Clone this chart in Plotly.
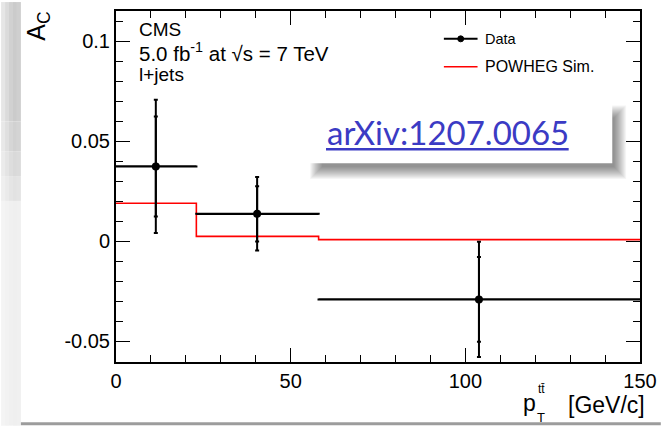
import plotly.graph_objects as go

# ---- data ----
bin_edges = [0, 23, 58, 150]
data_x = [11.4, 40.4, 103.9]
data_y = [0.0373, 0.0136, -0.0292]
stat_err = [0.0250, 0.0138, 0.0212]
tot_err = [0.0333, 0.0184, 0.0288]
powheg_y = [0.0189, 0.0023, 0.0007]
x_ticks = [0, 50, 100, 150]
x_ticktext = ["0", "50", "100", "150"]
y_ticks = [-0.05, 0, 0.05, 0.1]
y_ticktext = ["-0.05", "0", "0.05", "0.1"]

W, H = 666, 426
L, R, T, B = 116, 21, 9, 64
PW, PH = W - L - R, H - T - B


def px(x):
    return (x - L) / PW


def py(y):
    return (H - B - y) / PH


err_lo = [x - lo for x, lo in zip(data_x, bin_edges[:-1])]
err_hi = [hi - x for x, hi in zip(data_x, bin_edges[1:])]

fig = go.Figure()

# POWHEG step histogram
fig.add_trace(go.Scatter(
    x=bin_edges, y=powheg_y + [powheg_y[-1]], mode="lines",
    line=dict(color="#ff0000", width=1.6, shape="hv"), showlegend=False,
    hoverinfo="skip"))

# stat error caps
fig.add_trace(go.Scatter(
    x=data_x, y=data_y, mode="markers", marker=dict(size=1, color="black"),
    error_y=dict(type="data", array=stat_err, color="black", thickness=2, width=2),
    showlegend=False, hoverinfo="skip"))

# data with total errors
fig.add_trace(go.Scatter(
    x=data_x, y=data_y, mode="markers",
    marker=dict(size=8, color="black", symbol="circle"),
    error_y=dict(type="data", array=tot_err, color="black", thickness=2, width=2),
    error_x=dict(type="data", array=err_hi, arrayminus=err_lo, symmetric=False,
                 color="black", thickness=2.2, width=1),
    showlegend=False))

font_family = "Liberation Sans, Arial, sans-serif"

fig.update_xaxes(
    range=[0, 150], tickvals=x_ticks, ticktext=x_ticktext,
    ticks="inside", ticklen=14, tickwidth=1.2, tickcolor="black",
    minor=dict(dtick=10, ticks="inside", ticklen=7, tickcolor="black", tickwidth=1.2),
    showline=True, linecolor="black", linewidth=2, mirror="allticks",
    showgrid=False, zeroline=False,
    tickfont=dict(family=font_family, size=20, color="black"))
fig.update_yaxes(
    range=[-0.0605, 0.115], tickvals=y_ticks, ticktext=y_ticktext,
    ticks="inside", ticklen=14, tickwidth=1.2, tickcolor="black",
    minor=dict(dtick=0.01, tick0=0, ticks="inside", ticklen=7, tickcolor="black", tickwidth=1.2),
    showline=True, linecolor="black", linewidth=2, mirror="allticks",
    showgrid=False, zeroline=False,
    tickfont=dict(family=font_family, size=20, color="black"))

shapes = []
# left gray strip (slide background)
strip_cols = [
    (0, 120, ["#e6e6e6", "#dbdbdb", "#d1d1d1", "#cbcbcb", "#cfcfcf"]),
    (120, 150, ["#e8e8e8", "#dfdfdf", "#d6d6d6", "#d1d1d1", "#d4d4d4"]),
    (150, 175, ["#ebebeb", "#e4e4e4", "#dddddd", "#d9d9d9", "#dbdbdb"]),
    (175, 200, ["#efefef", "#eaeaea", "#e5e5e5", "#e2e2e2", "#e4e4e4"]),
    (200, 426, ["#f4f4f4", "#f2f2f2", "#f0f0f0", "#efefef", "#f0f0f0"]),
]
for y0, y1, cols in strip_cols:
    for i, c in enumerate(cols):
        shapes.append(dict(type="rect", xref="paper", yref="paper",
                           x0=px(i * 4), x1=px(i * 4 + 4), y0=py(y1), y1=py(y0),
                           fillcolor=c, line=dict(width=0), layer="below"))
# bottom gray line
shapes.append(dict(type="line", xref="paper", yref="paper",
                   x0=px(20), x1=px(666), y0=py(424), y1=py(424),
                   line=dict(color="#9c9c9c", width=3), layer="below"))

# legend symbols
shapes.append(dict(type="line", xref="paper", yref="paper",
                   x0=px(447), x1=px(481), y0=py(37), y1=py(37),
                   line=dict(color="black", width=2)))
shapes.append(dict(type="circle", xref="paper", yref="paper",
                   x0=px(461), x1=px(467), y0=py(40), y1=py(34),
                   fillcolor="black", line=dict(color="black", width=1)))
shapes.append(dict(type="line", xref="paper", yref="paper",
                   x0=px(447), x1=px(481), y0=py(65), y1=py(65),
                   line=dict(color="#ff0000", width=1.6)))

# arXiv box soft shadow
for s in range(-6, 7):
    shapes.append(dict(type="rect", xref="paper", yref="paper",
                       x0=px(318 - s), x1=px(625 + s), y0=py(172 + s), y1=py(110 - s),
                       fillcolor="rgba(0,0,0,0.04)", line=dict(width=0), layer="above"))
shapes.append(dict(type="rect", xref="paper", yref="paper",
                   x0=px(308), x1=px(617), y0=py(162), y1=py(98),
                   fillcolor="white", line=dict(width=0), layer="above"))
# underline
shapes.append(dict(type="line", xref="paper", yref="paper",
                   x0=px(328), x1=px(573), y0=py(148), y1=py(148),
                   line=dict(color="#3b3bc4", width=2.5), layer="above"))

annotations = [
    dict(text="CMS", x=px(137), y=py(28), xanchor="left", yanchor="middle",
         font=dict(family=font_family, size=19, color="black")),
    dict(text="5.0 fb<sup>-1</sup> at \u221as = 7 TeV", x=px(137), y=py(50),
         xanchor="left", yanchor="middle",
         font=dict(family=font_family, size=20.5, color="black")),
    dict(text="l+jets", x=px(137), y=py(73), xanchor="left", yanchor="middle",
         font=dict(family=font_family, size=19, color="black")),
    dict(text="Data", x=px(487), y=py(37), xanchor="left", yanchor="middle",
         font=dict(family=font_family, size=14.5, color="black")),
    dict(text="POWHEG Sim.", x=px(487), y=py(65), xanchor="left", yanchor="middle",
         font=dict(family=font_family, size=16, color="black")),
    dict(text="arXiv:1207.0065", x=px(451), y=py(131), xanchor="center", yanchor="middle",
         font=dict(family="Lato, sans-serif", size=33, color="#3b3bc4")),
    # x axis title
    dict(text="[GeV/c]", x=px(652), y=py(405), xanchor="right", yanchor="middle",
         font=dict(family=font_family, size=23, color="black")),
    dict(text="p", x=px(542), y=py(403), xanchor="right", yanchor="middle",
         font=dict(family=font_family, size=23, color="black")),
    dict(text="tt\u0304", x=px(540), y=py(389), xanchor="left", yanchor="middle",
         font=dict(family=font_family, size=12, color="black")),
    dict(text="T", x=px(539), y=py(418), xanchor="left", yanchor="middle",
         font=dict(family=font_family, size=13, color="black")),
    # y axis title
    dict(text="A<sub>C</sub>", x=px(37), y=py(24), xanchor="center", yanchor="middle",
         textangle=-90, font=dict(family=font_family, size=25, color="black")),
]
for a in annotations:
    a.update(xref="paper", yref="paper", showarrow=False)

fig.update_layout(
    width=W, height=H, margin=dict(l=L, r=R, t=T, b=B, pad=0),
    paper_bgcolor="white", plot_bgcolor="white",
    shapes=shapes, annotations=annotations, showlegend=False)

fig.write_html("out.html")
